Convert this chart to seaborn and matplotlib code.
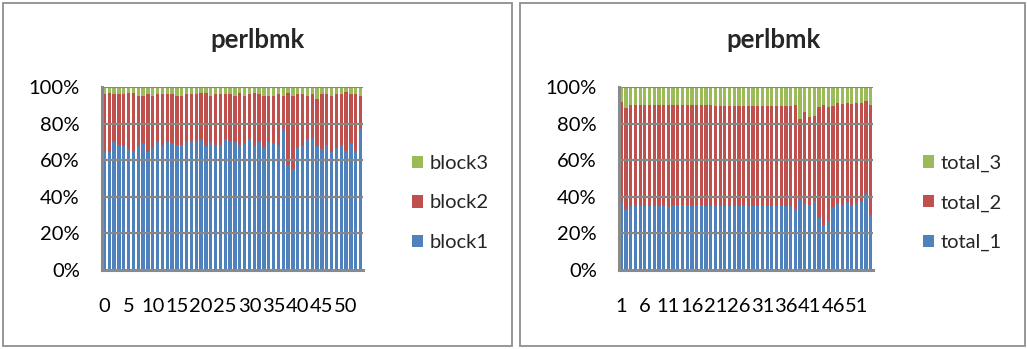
import matplotlib
matplotlib.use("Agg")
import matplotlib.pyplot as plt
from matplotlib.patches import Rectangle, Patch
import numpy as np
import pandas as pd
import seaborn as sns

sns.set_theme(style="white")
plt.rcParams["font.family"] = ["Lato", "DejaVu Sans"]

# ---- left chart: share of each block per sample (percent) ----
block_ids = list(range(0, 54))
block1 = [65.1, 64.4, 69.7, 68.2, 67.5, 66.1, 65.1, 67.5, 69.2, 64.4,
          66.6, 69.7, 67.5, 69.7, 69.2, 68.2, 68.2, 69.7, 70.6, 70.6,
          71.4, 67.5, 69.7, 68.2, 68.2, 71.4, 70.6, 69.7, 68.2, 69.2,
          71.4, 67.5, 69.7, 66.6, 69.7, 69.2, 67.5, 77.0, 57.3, 55.1,
          66.6, 67.5, 71.4, 72.3, 67.5, 66.1, 68.2, 64.4, 66.6, 68.2,
          65.1, 69.2, 65.1, 77.0]
block2 = [30.9, 32.5, 26.3, 27.8, 28.5, 30.8, 31.8, 27.8, 26.1, 31.6,
          28.7, 26.3, 28.5, 26.3, 26.8, 27.1, 27.1, 26.3, 25.4, 25.4,
          25.5, 29.4, 25.6, 27.8, 27.8, 24.6, 25.4, 25.6, 28.7, 26.1,
          24.6, 29.4, 26.3, 28.7, 25.6, 26.1, 28.5, 18.3, 39.6, 40.2,
          29.4, 28.5, 23.9, 23.7, 26.1, 29.9, 27.8, 30.9, 29.4, 27.8,
          32.4, 26.8, 30.9, 18.3]
block3 = [4.0, 3.1, 4.0, 4.0, 4.0, 3.1, 3.1, 4.7, 4.7, 4.0,
          4.7, 4.0, 4.0, 4.0, 4.0, 4.7, 4.7, 4.0, 4.0, 4.0,
          3.1, 3.1, 4.7, 4.0, 4.0, 4.0, 4.0, 4.7, 3.1, 4.7,
          4.0, 3.1, 4.0, 4.7, 4.7, 4.7, 4.0, 4.7, 3.1, 4.7,
          4.0, 4.0, 4.7, 4.0, 6.4, 4.0, 4.0, 4.7, 4.0, 4.0,
          2.5, 4.0, 4.0, 4.7]

# ---- right chart: share of each total per sample (percent) ----
total_ids = list(range(1, 55))
total_1 = [37.4, 33.2, 34.7, 34.7, 34.7, 34.7, 34.7, 34.7, 34.7, 34.7,
           34.3, 35.4, 35.4, 35.4, 35.4, 35.0, 35.4, 35.4, 35.0, 35.0,
           35.0, 35.0, 35.0, 35.0, 35.0, 35.0, 35.0, 35.0, 35.0, 35.0,
           35.0, 35.0, 35.0, 35.0, 35.0, 35.0, 35.0, 33.4, 38.7, 36.5,
           35.4, 37.8, 28.3, 24.8, 26.8, 34.3, 36.1, 35.4, 37.4, 35.4,
           36.5, 37.1, 41.8, 30.3]
total_2 = [54.2, 55.1, 55.6, 55.3, 55.3, 55.3, 55.3, 55.3, 55.3, 55.3,
           55.7, 54.9, 54.9, 54.9, 54.9, 55.3, 54.9, 54.9, 55.3, 55.3,
           54.8, 54.8, 54.8, 54.8, 54.8, 54.8, 54.8, 54.8, 54.8, 54.8,
           54.8, 54.8, 54.8, 54.8, 54.8, 54.8, 54.8, 56.9, 43.6, 50.0,
           48.4, 46.1, 60.9, 65.5, 62.4, 55.5, 55.3, 55.5, 54.0, 55.5,
           54.9, 54.3, 50.7, 60.0]
total_3 = [8.4, 11.7, 9.7, 10.0, 10.0, 10.0, 10.0, 10.0, 10.0, 10.0,
           10.0, 9.7, 9.7, 9.7, 9.7, 9.7, 9.7, 9.7, 9.7, 9.7,
           10.2, 10.2, 10.2, 10.2, 10.2, 10.2, 10.2, 10.2, 10.2, 10.2,
           10.2, 10.2, 10.2, 10.2, 10.2, 10.2, 10.2, 9.7, 17.7, 13.5,
           16.2, 16.1, 10.8, 9.7, 10.8, 10.2, 8.6, 9.1, 8.6, 9.1,
           8.6, 8.6, 7.5, 9.7]

title_text = "perlbmk"
y_ticks = [0, 20, 40, 60, 80, 100]
y_labels = ["0%", "20%", "40%", "60%", "80%", "100%"]

BLUE, RED, GREEN = "#4F81BD", "#C0504D", "#9BBB59"
GRID = "#878787"
W, H = 1027, 349
FS = 14.5

fig = plt.figure(figsize=(W / 100, H / 100), dpi=100)
fig.patch.set_facecolor("white")

# panel frames
for x0, x1 in [(2.5, 512), (519.5, 1025)]:
    fig.patches.append(Rectangle((x0 / W, 3 / H), (x1 - x0) / W, (346.5 - 3) / H,
                                 transform=fig.transFigure, fill=False,
                                 edgecolor="#8f8f8f", linewidth=1.3))


def stacked_percent(ax, cats, series, colors, tick_step):
    data = np.array(series, dtype=float)
    shares = data / data.sum(axis=0) * 100
    cum = np.cumsum(shares, axis=0)
    # draw from the tallest cumulative layer down so each layer shows its own band
    for level in range(len(series) - 1, -1, -1):
        df = pd.DataFrame({"cat": [str(c) for c in cats], "val": cum[level]})
        sns.barplot(data=df, x="cat", y="val", order=df["cat"], color=colors[level],
                    saturation=1, width=0.68, errorbar=None, ax=ax,
                    linewidth=0, zorder=2)
    ax.set_xlim(-0.5, len(cats) - 0.5)
    ax.set_ylim(0, 100)
    ax.set_yticks(y_ticks)
    ax.set_yticklabels(y_labels)
    pos = list(range(0, len(cats), tick_step))
    ax.set_xticks(pos)
    ax.set_xticklabels([str(cats[p]) for p in pos])
    ax.set_xlabel("")
    ax.set_ylabel("")
    ax.set_axisbelow(False)
    for v in y_ticks[1:]:
        ax.axhline(v, color=GRID, linewidth=1.6, zorder=3)
    for s in ("top", "right"):
        ax.spines[s].set_visible(False)
    for s in ("left", "bottom"):
        ax.spines[s].set_color("#8a8a8a")
        ax.spines[s].set_linewidth(2.2)
        ax.spines[s].set_zorder(4)
    ax.tick_params(axis="y", length=0, pad=16, labelsize=FS, colors="black")
    ax.tick_params(axis="x", length=0, pad=20, labelsize=FS, colors="black")
    ax.set_facecolor("white")


def add_legend(names, colors, x_px, y_px):
    handles = [Patch(facecolor=c, edgecolor="none") for c in colors]
    fig.legend(handles[::-1], names[::-1], loc="center left",
               bbox_to_anchor=(x_px / W, 1 - y_px / H), frameon=False,
               fontsize=FS, handlelength=0.56, handleheight=0.56,
               handletextpad=0.3, labelspacing=1.12, borderpad=0,
               borderaxespad=0)


series_colors = [BLUE, RED, GREEN]

ax1 = fig.add_axes([102 / W, (H - 270) / H, 261 / W, 183 / H])
stacked_percent(ax1, block_ids, [block1, block2, block3], series_colors, 5)
add_legend(["block1", "block2", "block3"], series_colors, 412, 203)
fig.text(257 / W, 1 - 40 / H, title_text, ha="center", va="center",
         fontsize=18.5, fontweight="bold")

ax2 = fig.add_axes([619 / W, (H - 270) / H, 254 / W, 183 / H])
stacked_percent(ax2, total_ids, [total_1, total_2, total_3], series_colors, 5)
add_legend(["total_1", "total_2", "total_3"], series_colors, 923, 203)
fig.text(773 / W, 1 - 40 / H, title_text, ha="center", va="center",
         fontsize=18.5, fontweight="bold")

fig.savefig("out.png", dpi=100)
